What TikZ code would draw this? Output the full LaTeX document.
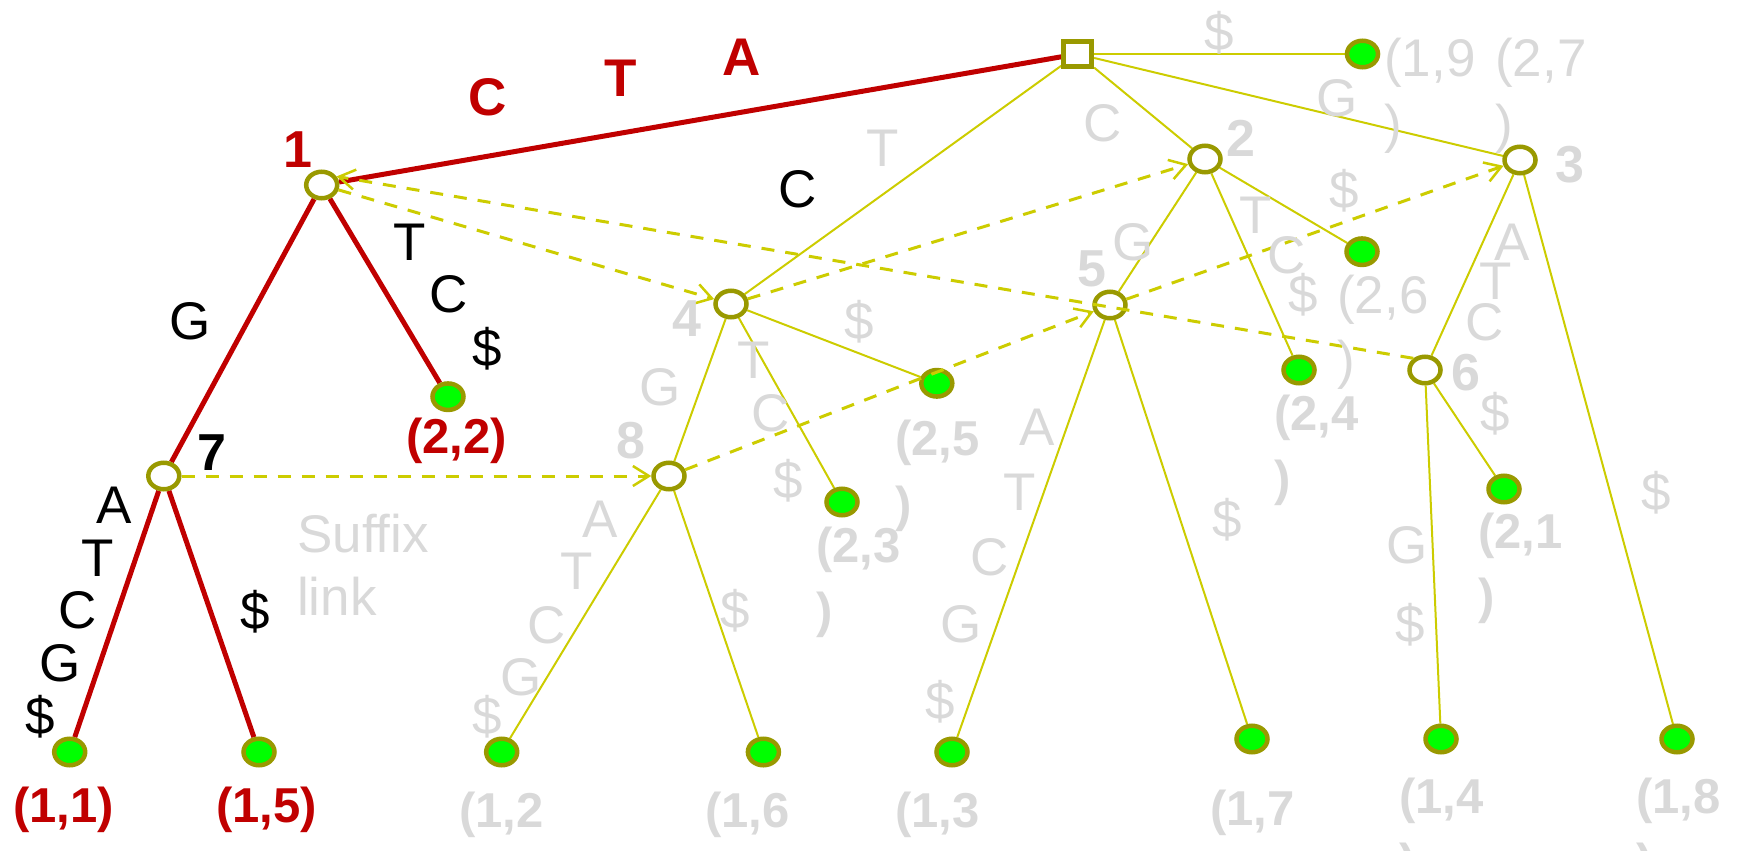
\documentclass[tikz,border=0pt]{standalone}
\usepackage{fontspec}
\setmainfont{Liberation Sans}
\usetikzlibrary{shapes.geometric,arrows.meta,backgrounds}
\definecolor{olivec}{RGB}{153,153,0}
\definecolor{ylwc}{RGB}{204,204,0}
\definecolor{dredc}{RGB}{192,0,0}
\definecolor{lgreyc}{RGB}{217,217,217}
\definecolor{limec}{RGB}{0,255,0}
\begin{document}
\begin{tikzpicture}[x=1pt,y=-1pt,
  inode/.style={ellipse,draw=olivec,line width=4.5pt,fill=white,minimum width=31pt,minimum height=26.5pt,inner sep=0pt},
  leafnode/.style={inode,fill=limec},
  rootbox/.style={rectangle,draw=olivec,line width=5pt,fill=white,minimum width=28pt,minimum height=25pt,inner sep=0pt},
  redge/.style={draw=dredc,line width=5pt},
  yedge/.style={draw=ylwc,line width=2pt},
  slink/.style={draw=ylwc,line width=3pt,dash pattern=on 13pt off 11pt,-{Straight Barb[length=16pt,width=20pt,line width=2.5pt]}},
  lett/.style={font=\fontsize{53}{64}\selectfont,inner sep=0pt},
  glet/.style={lett,text=lgreyc},
  blet/.style={lett,text=black},
  rlet/.style={font=\fontsize{53}{64}\selectfont\bfseries,inner sep=0pt,text=dredc},
  numlbl/.style={font=\fontsize{52}{60}\selectfont\bfseries,inner sep=0pt},
  lbold/.style={font=\fontsize{49}{60}\selectfont\bfseries,inner sep=0pt,anchor=base west},
  lnorm/.style={font=\fontsize{53}{60}\selectfont,inner sep=0pt,anchor=base west,text=lgreyc},
]
\useasboundingbox (0,0) rectangle (1738,851);

% internal nodes
\node[rootbox] (r) at (1077.6,54) {};
\node[inode] (n1) at (321.7,185) {};
\node[inode] (n2) at (1205,159) {};
\node[inode] (n3) at (1520,160) {};
\node[inode] (n4) at (731,304) {};
\node[inode] (n5) at (1110,305) {};
\node[inode] (n6) at (1425,370) {};
\node[inode] (n7) at (163.8,476) {};
\node[inode] (n8) at (669,476) {};
% leaves
\node[leafnode] (l11) at (69.7,752) {};
\node[leafnode] (l15) at (259,752) {};
\node[leafnode] (l12) at (501.7,752) {};
\node[leafnode] (l16) at (763.4,752) {};
\node[leafnode] (l13) at (952,752) {};
\node[leafnode] (l17) at (1252,739) {};
\node[leafnode] (l14) at (1441,739) {};
\node[leafnode] (l18) at (1677,739) {};
\node[leafnode] (l19) at (1362.5,54) {};
\node[leafnode] (l22) at (448,396.7) {};
\node[leafnode] (l23) at (842,502) {};
\node[leafnode] (l25) at (936.8,383.3) {};
\node[leafnode] (l24) at (1299,370) {};
\node[leafnode] (l26) at (1362,251.7) {};
\node[leafnode] (l21) at (1504,489) {};

\begin{pgfonlayer}{background}
% yellow tree edges
\draw[yedge] (r) -- (l19);
\draw[yedge] (r) -- (n2);
\draw[yedge] (r) -- (n3);
\draw[yedge] (r) -- (n4);
\draw[yedge] (n2) -- (n5);
\draw[yedge] (n2) -- (l26);
\draw[yedge] (n2) -- (l24);
\draw[yedge] (n3) -- (n6);
\draw[yedge] (n3) -- (l18);
\draw[yedge] (n4) -- (n8);
\draw[yedge] (n4) -- (l25);
\draw[yedge] (n4) -- (l23);
\draw[yedge] (n8) -- (l12);
\draw[yedge] (n8) -- (l16);
\draw[yedge] (n5) -- (l13);
\draw[yedge] (n5) -- (l17);
\draw[yedge] (n6) -- (l14);
\draw[yedge] (n6) -- (l21);
% red path
\draw[redge] (r) -- (n1);
\draw[redge] (n1) -- (n7);
\draw[redge] (n1) -- (l22);
\draw[redge] (n7) -- (l11);
\draw[redge] (n7) -- (l15);
\end{pgfonlayer}

% suffix links
\draw[slink] (n7) -- (n8);
\draw[slink] (n8) -- (n5);
\draw[slink] (n5) -- (n3);
\draw[slink] (n1) -- (n4);
\draw[slink] (n4) -- (n2);
\draw[slink] (n6.135) -- (n1.30);

% red edge letters
\node[rlet] (rc) at (488,97) {C};
\node[rlet] (rt) at (621,78) {T};
\node[rlet] (ra) at (742,57) {A};
% black letters
\node[blet] (b1) at (410,242) {T};
\node[blet] (b2) at (449,294) {C};
\node[blet] (b3) at (487,349) {\$};
\node[blet] (b4) at (190,321) {G};
\node[blet] (b5) at (798,189) {C};
\node[blet] (b6) at (114,505) {A};
\node[blet] (b7) at (98,558) {T};
\node[blet] (b8) at (78,610) {C};
\node[blet] (b9) at (60,663) {G};
\node[blet] (b10) at (40,717) {\$};
\node[blet] (b11) at (255,612) {\$};
% grey letters
\node[glet] (g1) at (1219,33) {\$};
\node[glet] (g2) at (1337,98) {G};
\node[glet] (g3) at (1103,123) {C};
\node[glet] (g4) at (883,148) {T};
\node[glet] (g5) at (1133,242) {G};
\node[glet] (g6) at (859,322) {\$};
\node[glet] (g7) at (754,360) {T};
\node[glet] (g8) at (660,387) {G};
\node[glet] (g9) at (771,413) {C};
\node[glet] (g10) at (788,481) {\$};
\node[glet] (g11) at (600,519) {A};
\node[glet] (g12) at (577,571) {T};
\node[glet] (g13) at (547,625) {C};
\node[glet] (g14) at (521,677) {G};
\node[glet] (g15) at (487,717) {\$};
\node[glet] (g16) at (735,611) {\$};
\node[glet] (g17) at (1037,427) {A};
\node[glet] (g18) at (1020,492) {T};
\node[glet] (g19) at (990,557) {C};
\node[glet] (g20) at (961,624) {G};
\node[glet] (g21) at (940,702) {\$};
\node[glet] (g22) at (1227,520) {\$};
\node[glet] (g23) at (1407,545) {G};
\node[glet] (g24) at (1410,625) {\$};
\node[glet] (g25) at (1656,493) {\$};
\node[glet] (g26) at (1256,215) {T};
\node[glet] (g27) at (1344,191) {\$};
\node[glet] (g28) at (1287,255) {C};
\node[glet] (g29) at (1303,295) {\$};
\node[glet] (g30) at (1512,242) {A};
\node[glet] (g31) at (1496,281) {T};
\node[glet] (g32) at (1485,322) {C};
\node[glet] (g33) at (1495,414) {\$};

% node numbers
\node[numlbl,text=dredc] (k1) at (298,150) {1};
\node[numlbl,text=black] (k7) at (212,453) {7};
\node[numlbl,text=lgreyc] (k2) at (1241,138) {2};
\node[numlbl,text=lgreyc] (k3) at (1570,165) {3};
\node[numlbl,text=lgreyc] (k4) at (687,319) {4};
\node[numlbl,text=lgreyc] (k5) at (1092,269) {5};
\node[numlbl,text=lgreyc] (k6) at (1466,373) {6};
\node[numlbl,text=lgreyc] (k8) at (631,441) {8};

% leaf labels
\node[lbold,text=dredc] (t11) at (13,822) {(1,1)};
\node[lbold,text=dredc] (t15) at (216,822) {(1,5)};
\node[lbold,text=dredc] (t22) at (406,453) {(2,2)};
\node[lbold,text=lgreyc] (t12) at (459,827) {(1,2};
\node[lbold,text=lgreyc] (t16) at (705,827) {(1,6};
\node[lbold,text=lgreyc] (t13) at (895,827) {(1,3};
\node[lbold,text=lgreyc] (t17) at (1210,825) {(1,7};
\node[lbold,text=lgreyc] (t14) at (1399,813) {(1,4};
\node[lbold,text=lgreyc] (t14b) at (1399,878) {)};
\node[lbold,text=lgreyc] (t18) at (1636,813) {(1,8};
\node[lbold,text=lgreyc] (t18b) at (1636,878) {)};
\node[lbold,text=lgreyc] (t21) at (1478,548) {(2,1};
\node[lbold,text=lgreyc] (t21b) at (1478,613) {)};
\node[lbold,text=lgreyc] (t23) at (816,562) {(2,3};
\node[lbold,text=lgreyc] (t23b) at (816,627) {)};
\node[lbold,text=lgreyc] (t25) at (895,455) {(2,5};
\node[lbold,text=lgreyc] (t25b) at (895,521) {)};
\node[lbold,text=lgreyc] (t24) at (1274,430) {(2,4};
\node[lbold,text=lgreyc] (t24b) at (1274,495) {)};
\node[lnorm] (t26) at (1337,313) {(2,6};
\node[lnorm] (t26b) at (1337,378) {)};
\node[lnorm] (t19) at (1384,77) {(1,9};
\node[lnorm] (t19b) at (1384,142) {)};
\node[lnorm] (t27) at (1495,77) {(2,7};
\node[lnorm] (t27b) at (1495,142) {)};

% caption
\node[lnorm] (sf1) at (297,552) {Suffix};
\node[lnorm] (sf2) at (297,615) {link};
\end{tikzpicture}
\end{document}
